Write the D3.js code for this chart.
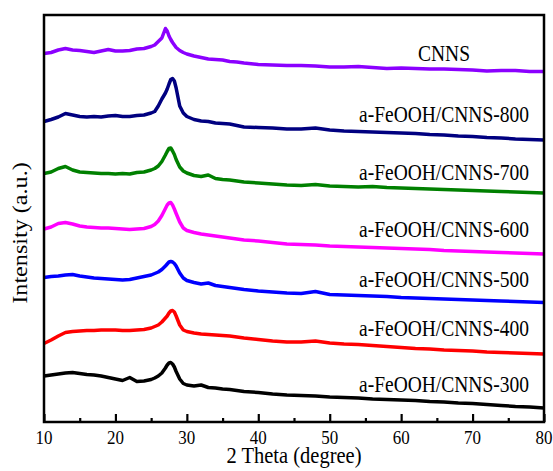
<!DOCTYPE html>
<html>
<head>
<meta charset="utf-8">
<script src="https://cdn.jsdelivr.net/npm/d3@7"></script>
<style>
  html, body { margin: 0; padding: 0; background: #fff; }
  svg { display: block; }
  text { font-family: "Liberation Serif", "Times New Roman", serif; fill: #000; }
</style>
</head>
<body>
<svg id="chart" width="553" height="471"></svg>
<script>
// ---------- data ----------
const theta = [10, 11, 12, 13, 14, 15, 16, 17, 18, 19, 20, 21, 22, 23, 24, 25, 25.5, 26, 26.5, 27, 27.25, 27.5, 27.75, 28, 28.25, 28.5, 29, 29.5, 30, 31, 32, 33, 34, 35, 36, 37, 38, 40, 42, 44, 46, 48, 50, 52, 54, 56, 58, 60, 62, 64, 66, 68, 70, 72, 74, 76, 78, 80];

const seriesNames = ["CNNS", "a-FeOOH/CNNS-800", "a-FeOOH/CNNS-700", "a-FeOOH/CNNS-600", "a-FeOOH/CNNS-500", "a-FeOOH/CNNS-400", "a-FeOOH/CNNS-300"];
const seriesColors = ["#8b00ff", "#000080", "#008000", "#ff00ff", "#0000ff", "#ff0000", "#000000"];

const cnns = [368.5, 369.5, 372, 373.5, 372, 371.5, 370.5, 369.5, 371, 372.5, 371, 371, 371.5, 373, 373.5, 375.5, 377, 380.5, 384, 393.5, 391, 386, 382.5, 379.5, 377, 374.5, 371.5, 369.5, 368, 366, 364.5, 363, 362.5, 362, 360.5, 360, 359, 357.5, 357, 356.5, 356.5, 356, 355, 355, 355.5, 354.5, 353.5, 354, 353.5, 353, 353, 352.5, 352, 351, 351.5, 351.5, 350.5, 350.5];
const s800 = [300.5, 302.5, 305, 308.5, 307, 305.5, 305, 305.5, 305, 306, 306.5, 305.5, 305.5, 306.5, 307, 309, 310.5, 316, 323, 329, 333, 338, 342.5, 343.5, 341, 334, 316, 309, 305.5, 302.5, 301, 300.5, 299, 298.5, 298, 296.5, 295, 294.5, 294, 293, 293, 294, 292, 291, 290.5, 290, 289.5, 289, 288.5, 287.5, 287, 286, 285.5, 284.5, 284, 283, 282.5, 282];
const s700 = [248.5, 250, 253.5, 255.5, 252, 250, 249.5, 249, 248.5, 248.5, 248, 248.5, 248, 249.5, 250, 252, 253.5, 256, 260.5, 267, 270.5, 273.5, 274, 271, 267.5, 262.5, 255, 251, 249, 246.5, 245.5, 247, 243.5, 242.5, 242, 241, 240, 239, 238, 237, 236.5, 237.5, 236, 235.5, 235, 235.5, 234.5, 234, 233.5, 233, 232.5, 232, 231.5, 231, 230.5, 230, 229.5, 229];
const s600 = [193, 195, 198.5, 199.5, 198, 196, 195, 194.5, 194, 194, 193.5, 193, 192.5, 193, 193.5, 195.5, 197.5, 201, 206.5, 213.5, 217, 219, 219.5, 217, 213, 208.5, 200, 194, 191.5, 189.5, 188, 187, 186, 185, 184, 183, 182, 181, 179.5, 178, 177.5, 177, 176, 175.5, 175, 174.5, 174, 173.5, 173, 172.5, 171.5, 171, 170.5, 170, 169.5, 169, 168.5, 168];
const s500 = [144.5, 145.5, 146, 147, 147.5, 146, 145, 144, 143.5, 143, 142.5, 142, 142.5, 144, 145.5, 147, 148.5, 150, 152.5, 156, 158, 160, 160.5, 160, 158.5, 156, 149, 144, 141.5, 139.5, 138, 139, 136.5, 135.5, 134.5, 133.5, 132.5, 131, 130, 129, 128.5, 130.5, 127.5, 127, 126.5, 126, 125.5, 124.5, 124, 123.5, 123, 122.5, 122, 121.5, 121, 120.5, 120, 119.5];
const s400 = [78.5, 82, 86, 89.5, 90.5, 91, 91.5, 91.5, 92, 92, 92, 91.5, 91.5, 92, 92.5, 94, 95.5, 97, 100, 104, 106, 109, 111, 111.5, 110, 106, 97, 92, 90.5, 89, 88, 87.5, 87, 86.5, 86, 85, 84, 82.5, 81, 80, 80, 81, 79, 78, 77.5, 76.5, 75.5, 74.5, 73.5, 73, 72, 71.5, 71, 70, 69.5, 69, 68.5, 68];
const s300 = [46, 47, 48, 49, 49.5, 48.5, 47.5, 47, 46, 44.5, 43, 41.5, 44.5, 40.5, 41, 42.5, 44, 46, 49, 54, 57, 59, 59.5, 58, 55, 50.5, 43, 38.5, 37, 36, 37, 34.5, 34, 33, 32.5, 31.5, 30.5, 29.5, 28, 27, 26.5, 26, 25, 24.5, 24, 23, 22.5, 22, 21.5, 20.5, 20, 19, 18.5, 17.5, 16.5, 15.5, 15, 14];

const seriesValues = [cnns, s800, s700, s600, s500, s400, s300];

const xMajorTicks = [10, 20, 30, 40, 50, 60, 70, 80];
const xMinorTicks = [15, 25, 35, 45, 55, 65, 75];

// ---------- layout ----------
const plot = { left: 44, right: 544, top: 15, bottom: 422 };
const labelX = 444;
const labelBaselines = [60.7, 121.7, 180, 237, 286.7, 336, 391.7];
const vStretch = 1.15;

const svg = d3.select("#chart");

const x = d3.scaleLinear().domain([10, 80]).range([plot.left, plot.right]);
const y = d3.scaleLinear().domain([0, 407]).range([plot.bottom, plot.top]);

// curves
const line = d3.line()
  .x(d => x(d[0]))
  .y(d => y(d[1]))
  .curve(d3.curveLinear);

seriesValues.forEach((vals, i) => {
  const pts = theta.map((t, j) => [t, vals[j]]);
  svg.append("path")
    .datum(pts)
    .attr("d", line)
    .attr("fill", "none")
    .attr("stroke", seriesColors[i])
    .attr("stroke-width", 3.5)
    .attr("stroke-linejoin", "round")
    .attr("stroke-linecap", "butt");
});

// series labels
seriesNames.forEach((name, i) => {
  svg.append("text")
    .attr("transform", `translate(${labelX},${labelBaselines[i]}) scale(1,${vStretch})`)
    .attr("text-anchor", "middle")
    .attr("font-size", 19.5)
    .text(name);
});

// frame
svg.append("rect")
  .attr("x", plot.left)
  .attr("y", plot.top)
  .attr("width", plot.right - plot.left)
  .attr("height", plot.bottom - plot.top)
  .attr("fill", "none")
  .attr("stroke", "#000")
  .attr("stroke-width", 2.5);

// bottom axis: major ticks inward
const axMajor = svg.append("g")
  .attr("transform", `translate(0,${plot.bottom})`)
  .call(d3.axisBottom(x).tickValues(xMajorTicks).tickSize(-8).tickFormat(""));
axMajor.select(".domain").remove();
axMajor.selectAll(".tick line").attr("stroke", "#000").attr("stroke-width", 2.2);

const axMinor = svg.append("g")
  .attr("transform", `translate(0,${plot.bottom})`)
  .call(d3.axisBottom(x).tickValues(xMinorTicks).tickSize(-4).tickFormat(""));
axMinor.select(".domain").remove();
axMinor.selectAll(".tick line").attr("stroke", "#000").attr("stroke-width", 2.2);

// tick labels (stretched vertically like the source)
xMajorTicks.forEach(t => {
  svg.append("text")
    .attr("transform", `translate(${x(t)},444) scale(1,${vStretch})`)
    .attr("text-anchor", "middle")
    .attr("font-size", 17)
    .text(t);
});

// axis titles
svg.append("text")
  .attr("transform", `translate(${(plot.left + plot.right) / 2},463) scale(1,${vStretch})`)
  .attr("text-anchor", "middle")
  .attr("font-size", 20.5)
  .text("2 Theta (degree)");

svg.append("text")
  .attr("transform", `translate(27,233) scale(1,${vStretch}) rotate(-90)`)
  .attr("text-anchor", "middle")
  .attr("font-size", 21)
  .text("Intensity (a.u.)");
</script>
</body>
</html>
